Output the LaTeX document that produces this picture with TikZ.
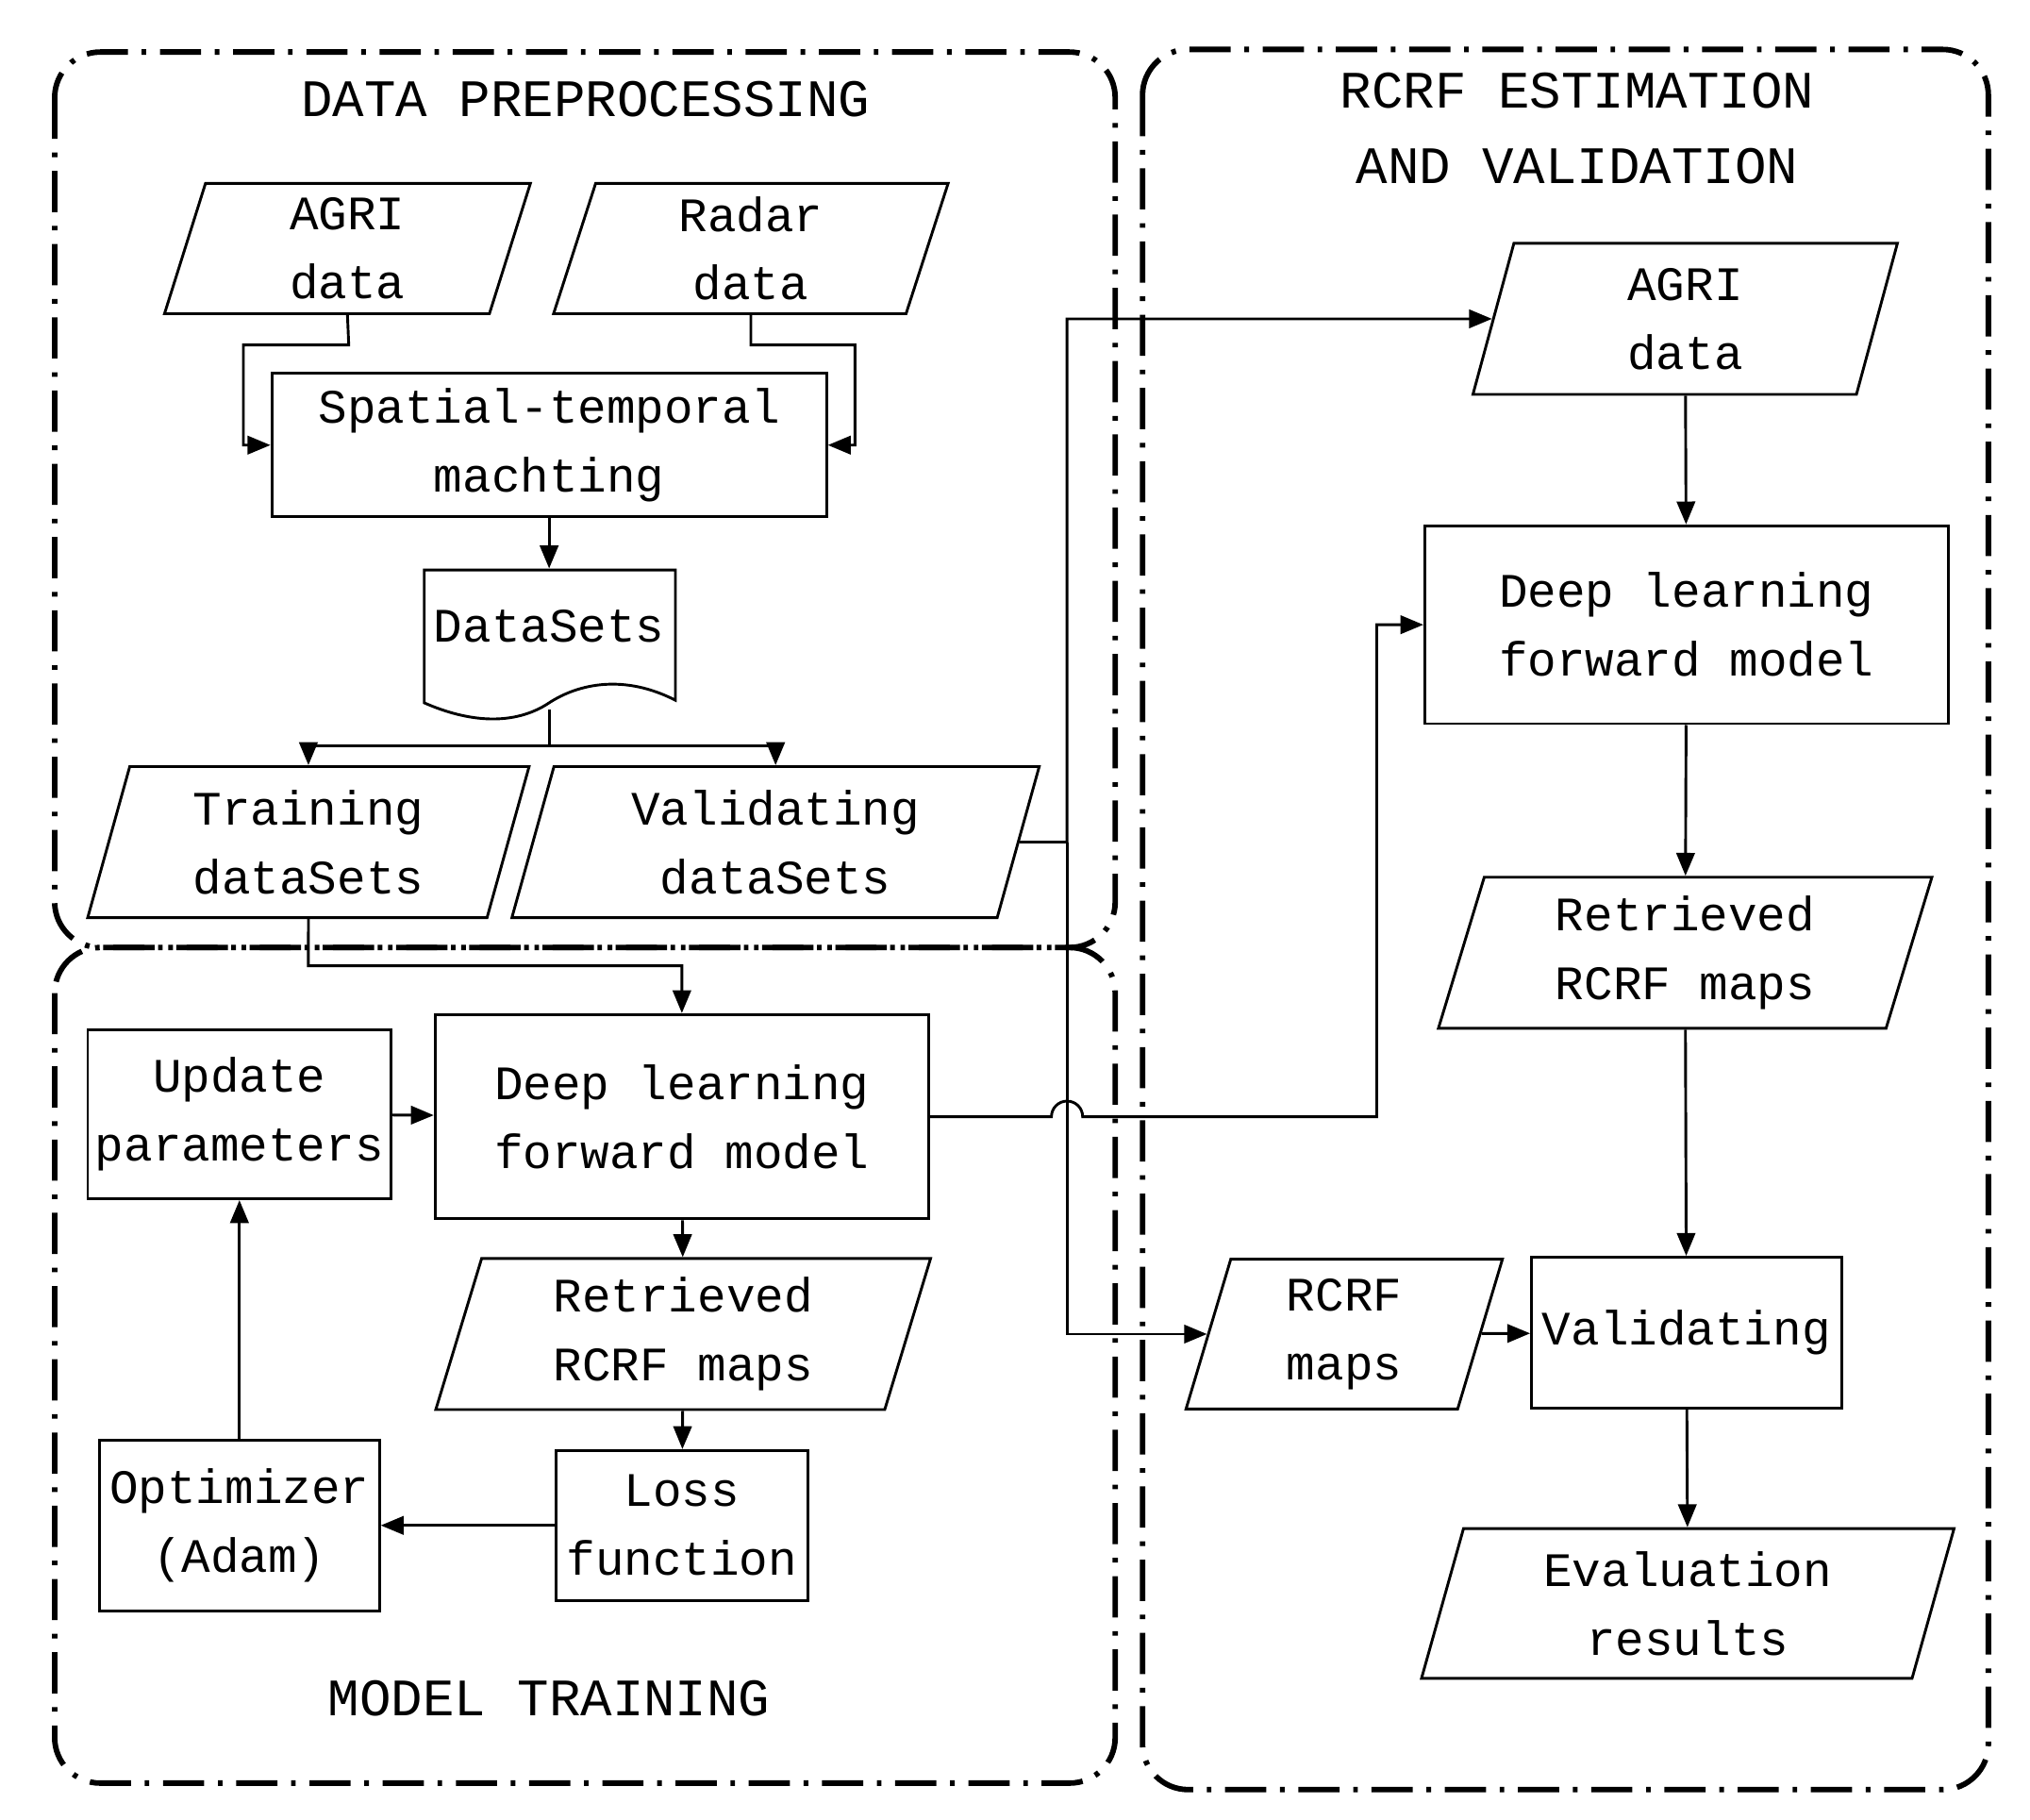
\documentclass[tikz,border=0pt]{standalone}
\usepackage{fontspec}
\setmainfont{Liberation Mono}
\usetikzlibrary{shapes.geometric,arrows.meta}
\begin{document}
\begin{tikzpicture}[x=0.01cm,y=-0.01cm,
  every node/.style={font=\fontsize{10.5pt}{15pt}\selectfont, align=center, inner sep=0pt},
  box/.style={draw, line width=0.6pt, rectangle},
  para/.style={draw, line width=0.6pt, trapezium, trapezium left angle=68, trapezium right angle=112, trapezium stretches body},
  frame/.style={line width=1.2pt, rounded corners=0.35cm, dash pattern=on 9pt off 3pt on 1pt off 3pt},
  ttl/.style={font=\fontsize{11.5pt}{16.5pt}\selectfont},
  ar/.style={line width=0.6pt, -{Triangle[length=5pt,width=4pt]}},
  ln/.style={line width=0.6pt}]
\useasboundingbox (0,0) rectangle (1560,1398);
% frames
\draw[frame] (42,40) rectangle (857,728);
\draw[frame] (42,728) rectangle (857,1370);
\draw[frame] (878,38) rectangle (1528,1375);
\node[ttl] (t1) at (450,76) {DATA PREPROCESSING};
\node[ttl] (t2) at (1212,99) {RCRF ESTIMATION\\AND VALIDATION};
\node[ttl] (t3) at (422,1305) {MODEL TRAINING};
% nodes
\node[para, minimum width=2.81cm, minimum height=1.0cm] (agri1) at (267,191) {AGRI\\data};
\node[para, minimum width=3.03cm, minimum height=1.0cm] (radar) at (577,191) {Radar\\data};
\node[box, minimum width=4.26cm, minimum height=1.10cm] (st) at (422,342) {Spatial-temporal\\machting};
\node[minimum width=1.93cm, minimum height=1.07cm] (ds) at (422,491) {};
\node at (422,481) {DataSets};
\draw[ln] (326,438) -- (519,438) -- (519,538) .. controls (480,518) and (445,525) .. (422,540) .. controls (395,558) and (360,555) .. (326,540) -- cycle;
\node[para, minimum width=3.39cm, minimum height=1.16cm] (train) at (237,647) {Training\\dataSets};
\node[para, minimum width=4.05cm, minimum height=1.16cm] (valid) at (596,647) {Validating\\dataSets};
\node[box, minimum width=2.33cm, minimum height=1.30cm] (upd) at (184,856) {Update\\parameters};
\node[box, minimum width=3.79cm, minimum height=1.57cm] (dl1) at (524,858) {Deep learning\\forward model};
\node[para, minimum width=3.80cm, minimum height=1.16cm] (ret1) at (525,1025) {Retrieved\\RCRF maps};
\node[box, minimum width=1.93cm, minimum height=1.15cm] (loss) at (524,1172) {Loss\\function};
\node[box, minimum width=2.15cm, minimum height=1.31cm] (opt) at (184,1172) {Optimizer\\(Adam)};
\node[para, minimum width=3.26cm, minimum height=1.16cm] (agri2) at (1295,245) {AGRI\\data};
\node[box, minimum width=4.02cm, minimum height=1.52cm] (dl2) at (1296,480) {Deep learning\\forward model};
\node[para, minimum width=3.79cm, minimum height=1.16cm] (ret2) at (1295,732) {Retrieved\\RCRF maps};
\node[para, minimum width=2.43cm, minimum height=1.15cm] (maps) at (1033,1025) {RCRF\\maps};
\node[box, minimum width=2.38cm, minimum height=1.16cm] (val) at (1296,1024) {Validating};
\node[para, minimum width=4.09cm, minimum height=1.15cm] (eval) at (1297,1232) {Evaluation\\results};
\coordinate (dsb) at (422,545);
\coordinate (split) at (422,573);
% connectors
\draw[ar] (agri1.south) -- (268,265) -- (187,265) |- (st.west);
\draw[ar] (radar.south) -- (577,265) -- (657,265) |- (st.east);
\draw[ar] (st) -- (ds);
\draw[ln] (dsb) -- (split);
\draw[ar] (split) -| (train.north);
\draw[ar] (split) -| (valid.north);
\draw[ar] (train.south) -- (237,742) -| (dl1.north);
\draw[ar] (valid.east) -- (820,647) |- (agri2.west);
\draw[ar] (820,647) |- (maps.west);
\draw[ar] (upd) -- (dl1);
\draw[ar] (dl1.east) -- (808,858) arc[start angle=180,end angle=360,radius=12] -- (1058,858) |- (dl2.west);
\draw[ar] (dl1) -- (ret1);
\draw[ar] (ret1) -- (loss);
\draw[ar] (loss) -- (opt);
\draw[ar] (opt) -- (upd);
\draw[ar] (agri2) -- (dl2);
\draw[ar] (dl2) -- (ret2);
\draw[ar] (ret2) -- (val);
\draw[ar] (maps) -- (val);
\draw[ar] (val) -- (eval);
\end{tikzpicture}
\end{document}
